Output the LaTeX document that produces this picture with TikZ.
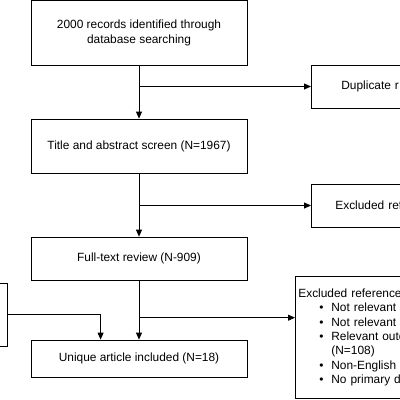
\documentclass[tikz,border=0pt]{standalone}
\usepackage{fontspec}
\setmainfont{Liberation Sans}
\usetikzlibrary{arrows.meta, positioning, calc}
\newcommand{\xitem}[1]{\\\hspace*{21pt}\makebox[12pt][l]{\textbullet}#1}

\begin{document}
\begin{tikzpicture}[
  x=1pt, y=-1pt,
  every node/.style={font=\fontsize{11.9}{14.4}\selectfont},
  fbox/.style={rectangle, draw, line width=0.8pt, minimum width=216pt, align=center},
  sidebox/.style={rectangle, draw, line width=0.8pt, anchor=west, text width=150pt,
                  align=left, minimum height=43pt},
  arr/.style={-{Triangle[length=7pt,width=6pt]}, line width=0.8pt},
]
  \useasboundingbox (0,0) rectangle (400,400);
  \clip (0,0) rectangle (400,400);

  % main column
  \node[fbox, minimum height=64.5pt] (rec) at (139,32.75)
    {2000 records identified through\\database searching};
  \node[fbox, minimum height=54pt] (tas) at (139,146) {Title and abstract screen (N=1967)};
  \node[fbox, minimum height=43pt] (ftr) at (139,258.5) {Full-text review (N-909)};
  \node[fbox, minimum height=37pt] (incl) at (139,358.5) {Unique article included (N=18)};

  % side boxes
  \node[sidebox, inner xsep=30pt] (dup) at (311,86.5) {Duplicate r};
  \node[sidebox, inner xsep=24pt] (exa) at (311,205.5) {Excluded ref};
  \node[sidebox, anchor=north west, inner xsep=3pt, minimum height=122pt] (exb) at (295,276)
    {Excluded reference\xitem{Not relevant}\xitem{Not relevant}\xitem{Relevant outc}%
     \\\hspace*{33pt}(N=108)\xitem{Non-English}\xitem{No primary d}};
  \node[rectangle, draw, line width=0.8pt, minimum width=67pt, minimum height=63pt]
    (oth) at (-26.5,314.5) {};

  % arrows
  \draw[arr] (rec) -- (tas);
  \draw[arr] (rec.south |- dup.west) -- (dup.west);
  \draw[arr] (tas) -- (ftr);
  \draw[arr] (tas.south |- exa.west) -- (exa.west);
  \draw[arr] (ftr) -- (incl);
  \coordinate (j3) at ($(ftr.south)!0.63!(incl.north)$);
  \draw[arr] (j3) -- (j3 -| exb.west);
  \draw[arr] (oth.east) -| ($(incl.north west)+(70,0)$);
\end{tikzpicture}
\end{document}
